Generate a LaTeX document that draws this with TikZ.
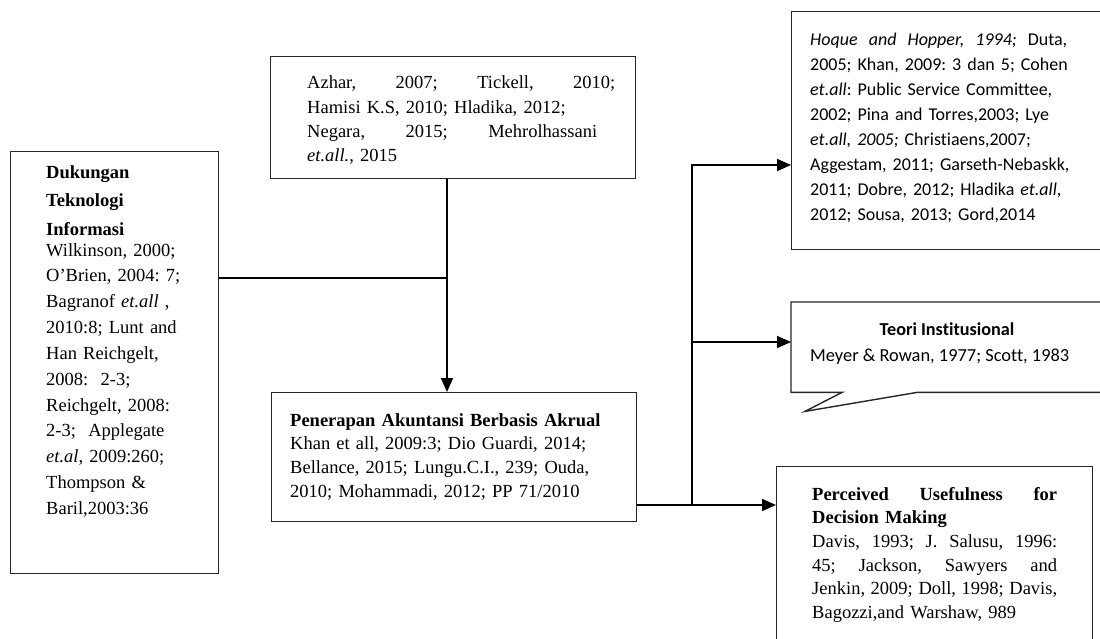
\documentclass[tikz,border=0pt]{standalone}
\usepackage{fontspec}
\setmainfont{Liberation Serif}
\newfontfamily\calfont[Ligatures=NoCommon]{Carlito}
\usetikzlibrary{arrows.meta}
\frenchspacing
\newcommand{\jline}[2]{\makebox[#1][l]{#2}}
\begin{document}
\begin{tikzpicture}[x=1pt,y=-1pt,
  box/.style={draw=black!85, line width=1.4pt, inner sep=0pt, anchor=north west},
  txt/.style={inner sep=0pt, anchor=base west, align=left},
  conn/.style={line width=1.8pt},
  arr/.style={conn, -{Triangle[length=14pt,width=12pt]}}]
\useasboundingbox (0,0) rectangle (1100,639);
\clip (0,0) rectangle (1100,639);
% boxes
\node[box, minimum width=208pt, minimum height=422pt] (lb) at (10,151) {};
\node[box, minimum width=365pt, minimum height=122pt] (tb) at (270,56) {};
\node[box, minimum width=365pt, minimum height=129pt] (mb) at (271,392) {};
\node[box, minimum width=330pt, minimum height=238pt] (trb) at (791,11) {};
\node[box, minimum width=316pt, minimum height=200pt] (brb) at (776,466) {};
\node[inner sep=0pt, minimum width=330pt, minimum height=90pt, anchor=north west] (co) at (791,302) {};
\draw[draw=black!85, line width=1.4pt, line join=miter]
  (co.north east) -- (co.north west) -- (co.south west) -- ++(51,0) -- ++(-37,19) -- ++(112,-19) -- (co.south east);
% texts
\node[txt, text width=170pt, font=\fontsize{18.5}{28}\selectfont\bfseries] (lbh) at (46,179)
  {Dukungan\\Teknologi\\Informasi};
\node[txt, text width=170pt, font=\fontsize{18.5}{25.84}\selectfont] (lbt) at (46,256)
  {Wilkinson, 2000;\\
   O’Brien, 2004: 7;\\
   Bagranof \textit{et.all} ,\\
   2010:8; Lunt and\\
   Han Reichgelt,\\
   2008:\ \ 2-3;\\
   Reichgelt, 2008:\\
   2-3;\ \ Applegate\\
   \textit{et.al}, 2009:260;\\
   Thompson \&\\
   Baril,2003:36};
\node[txt, text width=320pt, font=\fontsize{18.5}{24.3}\selectfont] (tbt) at (307,89)
  {\jline{308pt}{Azhar,\hfill 2007;\hfill Tickell,\hfill 2010;}\\
   Hamisi K.S, 2010; Hladika, 2012;\\
   \jline{290pt}{Negara,\hfill 2015;\hfill Mehrolhassani}\\
   \textit{et.all.}, 2015};
\node[txt, text width=340pt, font=\fontsize{18.5}{23.7}\selectfont] (mbt) at (290,426)
  {\textbf{Penerapan Akuntansi Berbasis Akrual}\\
   Khan et all, 2009:3; Dio Guardi, 2014;\\
   Bellance, 2015; Lungu.C.I., 239; Ouda,\\
   2010; Mohammadi, 2012; PP 71/2010};
\node[txt, text width=285pt, font=\calfont\fontsize{18}{25}\selectfont] (trt) at (810,46)
  {\jline{257pt}{\textit{Hoque\hfill and\hfill Hopper,\hfill 1994;}\hfill Duta,}\\
   2005; Khan, 2009: 3 dan 5; Cohen\\
   \textit{et.all}: Public Service Committee,\\
   2002; Pina and Torres,2003; Lye\\
   \textit{et.all, 2005;} Christiaens,2007;\\
   Aggestam, 2011; Garseth-Nebaskk,\\
   2011; Dobre, 2012; Hladika \textit{et.all},\\
   2012; Sousa, 2013; Gord,2014};
\node[inner sep=0pt, anchor=base, font=\calfont\fontsize{18.2}{25}\selectfont\bfseries] (cot) at (947,335)
  {Teori Institusional};
\node[inner sep=0pt, anchor=base west, font=\calfont\fontsize{18.4}{25}\selectfont] (cob) at (810,361)
  {Meyer \& Rowan, 1977; Scott, 1983};
\node[txt, text width=260pt, font=\fontsize{18.5}{23.7}\selectfont] (brt) at (812,500)
  {\jline{245pt}{\textbf{Perceived}\hfill\textbf{Usefulness}\hfill\textbf{for}}\\
   \textbf{Decision Making}\\
   \jline{245pt}{Davis,\hfill 1993;\hfill J.\hfill Salusu,\hfill 1996:}\\
   \jline{245pt}{45;\hfill Jackson,\hfill Sawyers\hfill and}\\
   \jline{245pt}{Jenkin,\hfill 2009;\hfill Doll,\hfill 1998;\hfill Davis,}\\
   Bagozzi,and Warshaw, 989};
% connectors
\coordinate (J1) at (447,278);
\draw[conn] (J1 -| lb.east) -- (J1);
\draw[arr] (tb.south -| J1) -- (mb.north -| J1);
\coordinate (J2) at (692,505);
\coordinate (T1) at (692,165);
\coordinate (C1) at (692,342);
\draw[arr] (J2 -| mb.east) -- (J2 -| brb.west);
\draw[arr] (J2) -- (T1) -- (T1 -| trb.west);
\draw[arr] (C1) -- (C1 -| co.west);
\end{tikzpicture}
\end{document}
